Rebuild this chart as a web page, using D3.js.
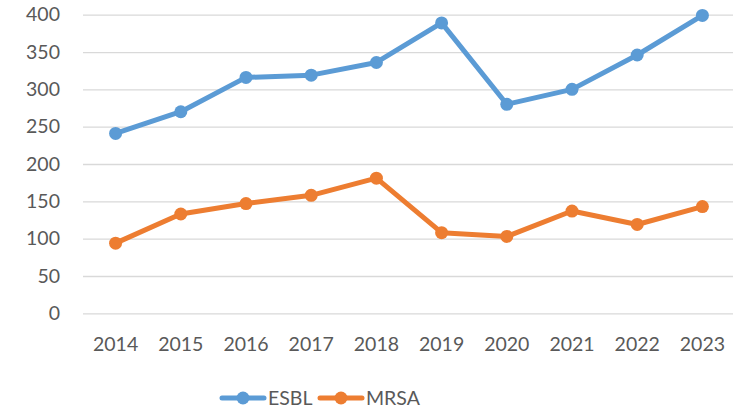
<!DOCTYPE html>
<html>
<head>
<meta charset="utf-8">
<script src="https://cdn.jsdelivr.net/npm/d3@7"></script>
<style>
  body { margin: 0; background: #fff; }
  text { font-family: Lato, "Open Sans", sans-serif; fill: #595959; }
</style>
</head>
<body>
<script>
let years = ["2014","2015","2016","2017","2018","2019","2020","2021","2022","2023"];
let esbl = [241, 270, 316, 319, 336, 389, 280, 300, 346, 399];
let mrsa = [94, 133, 147, 158, 181, 108, 103, 137, 119, 143];
let yTicks = [0, 50, 100, 150, 200, 250, 300, 350, 400];
let seriesNames = ["ESBL", "MRSA"];
let colors = ["#5B9BD5", "#ED7D31"];

let w = 733, h = 412;
let plotLeft = 83, plotRight = 735, plotTop = 14.7, plotBottom = 313.3;
let fontSize = 19.5;

let svg = d3.select("body").append("svg")
  .attr("width", w)
  .attr("height", h);

let x = d3.scaleBand().domain(years).range([plotLeft, plotRight]);
let y = d3.scaleLinear().domain([0, 400]).range([plotBottom, plotTop]);

// gridlines
svg.append("g")
  .attr("transform", "translate(" + plotLeft + ",0)")
  .call(d3.axisLeft(y).tickValues(yTicks).tickSize(-(plotRight - plotLeft)).tickFormat(""))
  .call(g => g.select(".domain").remove())
  .call(g => g.selectAll("line").attr("stroke", "#d9d9d9").attr("stroke-width", 1.3));

// y labels
svg.append("g")
  .attr("transform", "translate(60,0)")
  .call(d3.axisLeft(y).tickValues(yTicks).tickSize(0).tickPadding(0))
  .call(g => g.select(".domain").remove())
  .call(g => g.selectAll("text").attr("font-size", fontSize).attr("fill", "#595959")
    .style("font-family", "Lato, 'Open Sans', sans-serif"));

// x labels
svg.append("g")
  .attr("transform", "translate(0," + plotBottom + ")")
  .call(d3.axisBottom(x).tickSize(0).tickPadding(24))
  .call(g => g.select(".domain").remove())
  .call(g => g.selectAll("text").attr("font-size", fontSize).attr("fill", "#595959")
    .style("font-family", "Lato, 'Open Sans', sans-serif"));

let data = [esbl, mrsa];
let line = d3.line()
  .x((d, i) => x(years[i]) + x.bandwidth() / 2)
  .y(d => y(d));

data.forEach((vals, k) => {
  svg.append("path")
    .datum(vals)
    .attr("d", line)
    .attr("fill", "none")
    .attr("stroke", colors[k])
    .attr("stroke-width", 5)
    .attr("stroke-linejoin", "round");
  svg.selectAll(".pt" + k)
    .data(vals)
    .enter()
    .append("circle")
      .attr("cx", (d, i) => x(years[i]) + x.bandwidth() / 2)
      .attr("cy", d => y(d))
      .attr("r", 6.5)
      .attr("fill", colors[k]);
});

// legend
let legendX = [222, 320];
seriesNames.forEach((name, k) => {
  let g = svg.append("g").attr("transform", "translate(" + legendX[k] + ",398)");
  g.append("line")
    .attr("x1", 0).attr("x2", 42)
    .attr("stroke", colors[k]).attr("stroke-width", 5).attr("stroke-linecap", "round");
  g.append("circle").attr("cx", 21).attr("r", 6.5).attr("fill", colors[k]);
  g.append("text")
    .attr("x", 46).attr("y", 0).attr("dy", "0.35em")
    .attr("font-size", fontSize)
    .text(name);
});
</script>
</body>
</html>
